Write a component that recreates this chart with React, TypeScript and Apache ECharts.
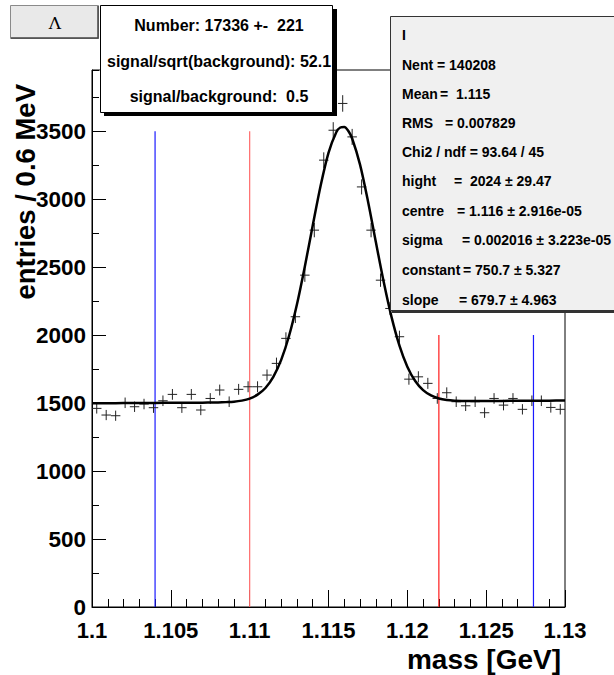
import React, { useEffect, useRef } from "react";
import * as echarts from "echarts";

// ---- data ----
const binLow = 1.1;
const binWidth = 0.0006;
const counts = [
  1461, 1412, 1407, 1502, 1473, 1493, 1466, 1517, 1564, 1466,
  1564, 1449, 1534, 1596, 1510, 1601, 1620, 1620, 1706, 1792,
  1976, 2135, 2441, 2772, 3287, 3507, 3704, 3458, 3090, 2772,
  2404, 2196, 1988, 1676, 1693, 1645, 1534, 1576, 1510, 1480,
  1510, 1429, 1534, 1485, 1534, 1454, 1517, 1517, 1468, 1454,
];

// fit curve (gaussian + linear background) sampled points
const fitX = [
  1.1, 1.101, 1.102, 1.103, 1.104, 1.105, 1.106, 1.107, 1.1075, 1.108,
  1.1085, 1.109, 1.1095, 1.11, 1.1105, 1.111, 1.1115, 1.112, 1.1125, 1.113,
  1.1135, 1.114, 1.1145, 1.115, 1.1155, 1.11575, 1.116, 1.11625, 1.1165, 1.117,
  1.1175, 1.118, 1.1185, 1.119, 1.1195, 1.12, 1.1205, 1.121, 1.1215, 1.122,
  1.1225, 1.123, 1.1235, 1.124, 1.125, 1.126, 1.127, 1.128, 1.129, 1.13,
];
const fitY = [
  1498, 1499, 1500, 1500, 1501, 1502, 1503, 1503, 1504, 1505,
  1507, 1510, 1518, 1533, 1562, 1611, 1693, 1818, 1995, 2227,
  2505, 2806, 3099, 3341, 3494, 3527, 3531, 3503, 3446, 3254,
  2987, 2687, 2392, 2132, 1923, 1768, 1662, 1595, 1556, 1534,
  1523, 1518, 1516, 1515, 1515, 1516, 1517, 1517, 1518, 1519,
];

const cutX = [1.104, 1.11, 1.122, 1.128];
const cutTop = [3500, 3500, 2000, 2000];
const cutColor = ["#1a1aff", "#ff6b6b", "#ff1a1a", "#1a1aff"];

const xTickLabels = ["1.1", "1.105", "1.11", "1.115", "1.12", "1.125", "1.13"];

const infoLines = [
  "Number: 17336 +-  221",
  "signal/sqrt(background): 52.1",
  "signal/background:  0.5",
];

const statsNames = ["I", "Nent", "Mean", "RMS", "Chi2 / ndf = 93.64 / 45", "hight", "centre", "sigma", "constant", "slope"];
const statsValues = ["", "= 140208", "=  1.115", "= 0.007829", "", "=  2024 \u00b1 29.47", "= 1.116 \u00b1 2.916e-05", "= 0.002016 \u00b1 3.223e-05", "= 750.7 \u00b1 5.327", "= 679.7 \u00b1 4.963"];

// ---- layout ----
const statsValueX = [0, 437, 440, 445, 0, 454, 457, 462, 463, 459];
const statsY = [35, 65, 94, 123, 152, 181, 211, 240, 270, 300];
const infoY = [25, 61, 96];

const FONT = '"Liberation Sans", Arial, Helvetica, sans-serif';

export default function App() {
  const ref = useRef<HTMLDivElement>(null);

  useEffect(() => {
    if (!ref.current) return;
    const chart = echarts.init(ref.current, null, { renderer: "svg" });

    const points = counts.map((c, i) => [binLow + binWidth * (i + 0.5), c, Math.sqrt(c)]);

    const cutSeries = cutX.map((x, i) => ({
      type: "line",
      silent: true,
      z: 3,
      color: cutColor[i],
      data: [
        [x, 0],
        [x, cutTop[i]],
      ],
      symbol: "none",
      lineStyle: { color: cutColor[i], width: 1.2 },
    }));

    const graphics: any[] = [];
    // Lambda button
    graphics.push({
      type: "rect",
      z: 100,
      shape: { x: 10.5, y: 5.5, width: 88, height: 33 },
      style: { fill: "#e9e9e9", stroke: "#8a8a8a", lineWidth: 1 },
    });
    graphics.push({
      type: "polyline",
      z: 101,
      shape: { points: [[11, 38], [98, 38], [98, 6]] },
      style: { stroke: "#444", lineWidth: 1.5, fill: null },
    });
    graphics.push({
      type: "text",
      z: 102,
      x: 55,
      y: 23,
      style: { text: "\u039b", font: '17px "DejaVu Serif", serif', fill: "#000", textAlign: "center", textVerticalAlign: "middle" },
    });

    // info box
    graphics.push({
      type: "rect",
      z: 100,
      shape: { x: 104, y: 9, width: 233, height: 107 },
      style: { fill: "#000" },
    });
    graphics.push({
      type: "rect",
      z: 101,
      shape: { x: 100.5, y: 5.5, width: 232, height: 107 },
      style: { fill: "#fff", stroke: "#000", lineWidth: 1 },
    });
    infoLines.forEach((t, i) => {
      graphics.push({
        type: "text",
        z: 102,
        x: 219,
        y: infoY[i],
        style: { text: t, font: "bold 16px " + FONT, fill: "#000", textAlign: "center", textVerticalAlign: "middle" },
      });
    });

    // stats box
    graphics.push({
      type: "rect",
      z: 100,
      shape: { x: 392, y: 18, width: 240, height: 295 },
      style: { fill: "#333" },
    });
    graphics.push({
      type: "rect",
      z: 101,
      shape: { x: 390.5, y: 16.5, width: 240, height: 294 },
      style: { fill: "#f0f0f0", stroke: "#333", lineWidth: 1 },
    });
    statsNames.forEach((t, i) => {
      graphics.push({
        type: "text",
        z: 102,
        x: 402,
        y: statsY[i],
        style: { text: t, font: "bold 14px " + FONT, fill: "#000", textAlign: "left", textVerticalAlign: "middle" },
      });
      if (statsValues[i]) {
        graphics.push({
          type: "text",
          z: 102,
          x: statsValueX[i],
          y: statsY[i],
          style: { text: statsValues[i], font: "bold 14px " + FONT, fill: "#000", textAlign: "left", textVerticalAlign: "middle" },
        });
      }
    });

    // axis titles
    graphics.push({
      type: "text",
      z: 50,
      x: 25,
      y: 84,
      rotation: Math.PI / 2,
      style: { text: "entries / 0.6 MeV", font: "bold 27.5px " + FONT, fill: "#000", textAlign: "right", textVerticalAlign: "middle" },
    });
    graphics.push({
      type: "text",
      z: 50,
      x: 561,
      y: 659,
      style: { text: "mass [GeV]", font: "bold 28px " + FONT, fill: "#000", textAlign: "right", textVerticalAlign: "middle" },
    });

    const option: any = {
      animation: false,
      backgroundColor: "#fff",
      grid: {
        left: 92,
        top: 70,
        width: 473,
        height: 537,
        show: true,
        borderColor: "#000",
        borderWidth: 1,
        backgroundColor: "#fff",
      },
      xAxis: [
        {
          type: "value",
          min: 1.1,
          max: 1.13,
          interval: 0.005,
          axisLine: { show: true, lineStyle: { color: "#000", width: 1 } },
          axisTick: { show: true, inside: true, length: 17, lineStyle: { color: "#000", width: 1 } },
          axisLabel: {
            fontSize: 22,
            lineHeight: 20,
            fontWeight: "bold",
            fontFamily: FONT,
            color: "#000",
            margin: 13,
            formatter: (v: number) => {
              const idx = Math.round((v - 1.1) / 0.005);
              return xTickLabels[idx] ?? "";
            },
          },
          splitLine: { show: false },
        },
        {
          type: "value",
          min: 1.1,
          max: 1.13,
          interval: 0.001,
          position: "bottom",
          axisLine: { show: false },
          axisTick: { show: true, inside: true, length: 8, lineStyle: { color: "#000", width: 1 } },
          axisLabel: { show: false },
          splitLine: { show: false },
        },
      ],
      yAxis: [
        {
          type: "value",
          min: 0,
          max: 3950,
          interval: 500,
          axisLine: { show: true, lineStyle: { color: "#000", width: 1 } },
          axisTick: { show: true, inside: true, length: 14, lineStyle: { color: "#000", width: 1 } },
          axisLabel: {
            fontSize: 22.5,
            lineHeight: 18,
            fontWeight: "bold",
            fontFamily: FONT,
            color: "#000",
            margin: 6,
            showMaxLabel: false,
            formatter: (v: number) => String(Math.round(v)),
          },
          splitLine: { show: false },
        },
        {
          type: "value",
          min: 0,
          max: 3950,
          interval: 250,
          position: "left",
          axisLine: { show: false },
          axisTick: { show: true, inside: true, length: 7, lineStyle: { color: "#000", width: 1 } },
          axisLabel: { show: false },
          splitLine: { show: false },
        },
      ],
      series: [
        ...cutSeries,
        {
          type: "custom",
          z: 4,
          silent: true,
          data: points,
          renderItem: (params: any, api: any) => {
            const x = api.value(0);
            const y = api.value(1);
            const e = api.value(2);
            const l = api.coord([x - binWidth / 2, y]);
            const r = api.coord([x + binWidth / 2, y]);
            const t = api.coord([x, y + e]);
            const b = api.coord([x, y - e]);
            const st = { stroke: "#222", lineWidth: 1 };
            return {
              type: "group",
              children: [
                { type: "line", shape: { x1: l[0], y1: l[1], x2: r[0], y2: r[1] }, style: st },
                { type: "line", shape: { x1: t[0], y1: t[1], x2: b[0], y2: b[1] }, style: st },
              ],
            };
          },
        },
        {
          type: "line",
          z: 5,
          silent: true,
          data: fitX.map((x, i) => [x, fitY[i]]),
          smooth: 0.3,
          symbol: "none",
          lineStyle: { color: "#000", width: 2.5 },
        },
      ],
      graphic: { elements: graphics },
    };

    chart.setOption(option);
    return () => chart.dispose();
  }, []);

  return (
    <div
      ref={ref}
      style={{ position: "fixed", left: 0, top: 0, width: 614, height: 675, background: "#fff" }}
    />
  );
}
